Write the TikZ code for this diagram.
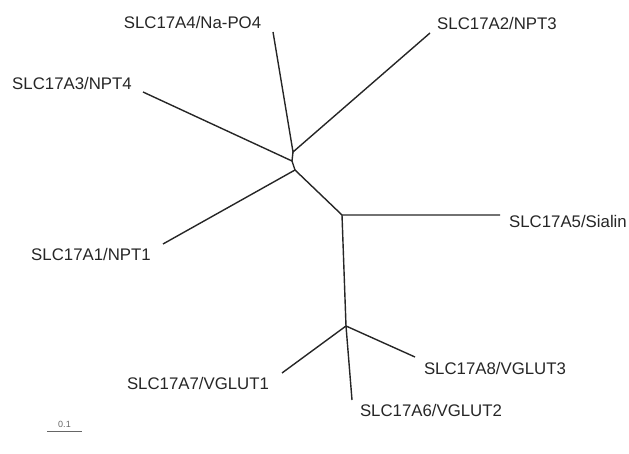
\documentclass[tikz,border=0pt]{standalone}
\usepackage{fontspec}
\setmainfont{Liberation Sans}
\begin{document}
\begin{tikzpicture}[x=1pt,y=-1pt,
  branch/.style={line width=1.4pt,draw=black!85},
  taxon/.style={font=\fontsize{16.8}{18}\selectfont,text=black!85,inner sep=0pt}]
\useasboundingbox (0,0) rectangle (629,454);

% internal nodes of the tree
\coordinate (j1) at (293,152);
\coordinate (j2) at (292,161);
\coordinate (j3) at (295,170);
\coordinate (j4) at (342,215);
\coordinate (j5) at (346,326);

% branch tips
\coordinate (t4) at (273,32);
\coordinate (t2) at (430,33);
\coordinate (t3) at (143,92);
\coordinate (t1) at (163,244);
\coordinate (t5) at (500,215);
\coordinate (t7) at (282,373);
\coordinate (t8) at (415,357);
\coordinate (t6) at (352,400);

% taxon labels
\node[taxon] (a4) at (192.5,22) {SLC17A4/Na-PO4};
\node[taxon] (a2) at (497,23) {SLC17A2/NPT3};
\node[taxon] (a3) at (72,83) {SLC17A3/NPT4};
\node[taxon] (a1) at (91,254) {SLC17A1/NPT1};
\node[taxon] (a5) at (568,221) {SLC17A5/Sialin};
\node[taxon] (a7) at (198,383) {SLC17A7/VGLUT1};
\node[taxon] (a8) at (495,368) {SLC17A8/VGLUT3};
\node[taxon] (a6) at (431,410) {SLC17A6/VGLUT2};

% branches
\draw[branch] (t4) -- (j1) -- (t2);
\draw[branch] (j1) -- (j2) -- (j3);
\draw[branch] (t3) -- (j2);
\draw[branch] (t1) -- (j3) -- (j4) -- (t5);
\draw[branch] (j4) -- (j5);
\draw[branch] (t7) -- (j5) -- (t8);
\draw[branch] (j5) -- (t6);

% scale bar
\coordinate (s0) at (47,431);
\coordinate (s1) at (82,431);
\draw[line width=0.9pt,draw=black!60] (s0) -- (s1);
\node[font=\fontsize{9}{10}\selectfont,text=black!60,inner sep=0pt] (sb) at (64.5,424) {0.1};
\end{tikzpicture}
\end{document}
